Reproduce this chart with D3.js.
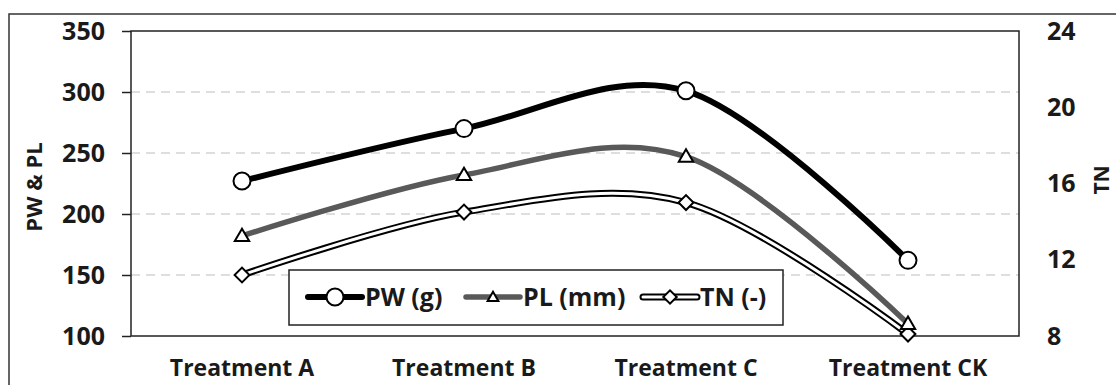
<!DOCTYPE html>
<html>
<head>
<meta charset="utf-8">
<script src="https://cdn.jsdelivr.net/npm/d3@7"></script>
<style>
  body { margin: 0; background: #fff; }
  text { font-family: "Open Sans", sans-serif; font-weight: bold; fill: #1a1a1a; }
</style>
</head>
<body>
<div id="chart"></div>
<script>
// values
var categories = ["Treatment A", "Treatment B", "Treatment C", "Treatment CK"];
var pw = [227, 270, 301, 162];   // PW (g), left axis
var pl = [182, 232, 247, 110];   // PL (mm), left axis
var tn = [11.2, 14.5, 15.0, 8.1]; // TN (-), right axis
var leftTicks = [100, 150, 200, 250, 300, 350];
var rightTicks = [8, 12, 16, 20, 24];

var W = 1116, H = 385;
var m = { left: 131, right: 97, top: 31, bottom: 49 };

var svg = d3.select("#chart").append("svg").attr("width", W).attr("height", H);

// outer frame, cut by the window on the right and bottom
svg.append("rect")
  .attr("x", 9).attr("y", 14).attr("width", 1300).attr("height", 600)
  .attr("fill", "none").attr("stroke", "#333").attr("stroke-width", 1.5);

var x = d3.scaleBand().domain(categories).range([m.left, W - m.right]);
var yL = d3.scaleLinear().domain([100, 350]).range([H - m.bottom, m.top]);
var yR = d3.scaleLinear().domain([8, 24]).range([H - m.bottom, m.top]);
var cx = function (d, i) { return x(categories[i]) + x.bandwidth() / 2; };

// dashed gridlines
svg.append("g").selectAll("line")
  .data(leftTicks.filter(function (t) { return t > 100 && t < 350; }))
  .join("line")
  .attr("x1", m.left).attr("x2", W - m.right)
  .attr("y1", function (d) { return yL(d); }).attr("y2", function (d) { return yL(d); })
  .attr("stroke", "#d4d4d4").attr("stroke-width", 1.5).attr("stroke-dasharray", "9,6");

// plot border
svg.append("rect")
  .attr("x", m.left).attr("y", m.top)
  .attr("width", W - m.right - m.left).attr("height", H - m.bottom - m.top)
  .attr("fill", "none").attr("stroke", "#222").attr("stroke-width", 1.5);

// left axis
var gL = svg.append("g").attr("transform", "translate(" + m.left + ",0)")
  .call(d3.axisLeft(yL).tickValues(leftTicks).tickSize(9).tickPadding(17));
gL.select(".domain").remove();
gL.selectAll(".tick line").attr("stroke", "#222").attr("stroke-width", 1.5);
gL.selectAll("text").style("font-size", "25px").attr("fill", "#1a1a1a");

// right axis
var gR = svg.append("g").attr("transform", "translate(" + (W - m.right) + ",0)")
  .call(d3.axisRight(yR).tickValues(rightTicks).tickSize(0).tickPadding(28));
gR.select(".domain").remove();
gR.selectAll("text").style("font-size", "25px").attr("fill", "#1a1a1a");

// category labels
var gX = svg.append("g").attr("transform", "translate(0," + (H - m.bottom) + ")")
  .call(d3.axisBottom(x).tickSize(0).tickPadding(24));
gX.select(".domain").remove();
gX.selectAll("text").style("font-size", "23px").attr("fill", "#1a1a1a");

// axis titles
svg.append("text").attr("transform", "translate(42,187) rotate(-90)")
  .attr("text-anchor", "middle").style("font-size", "22px").text("PW & PL");
svg.append("text").attr("transform", "translate(1109,180) rotate(-90)")
  .attr("text-anchor", "middle").style("font-size", "21px").text("TN");

var curve = d3.curveCardinal.tension(0);

// lines
var lineL = d3.line().x(cx).y(function (d) { return yL(d); }).curve(curve);
var lineR = d3.line().x(cx).y(function (d) { return yR(d); }).curve(curve);

svg.append("path").attr("d", lineR(tn)).attr("fill", "none")
  .attr("stroke", "#000").attr("stroke-width", 7);
svg.append("path").attr("d", lineR(tn)).attr("fill", "none")
  .attr("stroke", "#fff").attr("stroke-width", 3);
svg.append("path").attr("d", lineL(pl)).attr("fill", "none")
  .attr("stroke", "#595959").attr("stroke-width", 5.5);
svg.append("path").attr("d", lineL(pw)).attr("fill", "none")
  .attr("stroke", "#000").attr("stroke-width", 6);

// markers
var tri = d3.symbol().type(d3.symbolTriangle).size(90);
var dia = d3.symbol().type(d3.symbolSquare).size(110);

svg.append("g").selectAll("path").data(tn).join("path")
  .attr("d", dia)
  .attr("transform", function (d, i) { return "translate(" + cx(d, i) + "," + yR(d) + ") rotate(45)"; })
  .attr("fill", "#fff").attr("stroke", "#000").attr("stroke-width", 2);
svg.append("g").selectAll("path").data(pl).join("path")
  .attr("d", tri)
  .attr("transform", function (d, i) { return "translate(" + cx(d, i) + "," + (yL(d) + 1) + ")"; })
  .attr("fill", "#fff").attr("stroke", "#000").attr("stroke-width", 2);
svg.append("g").selectAll("circle").data(pw).join("circle")
  .attr("cx", cx).attr("cy", function (d) { return yL(d); }).attr("r", 8.5)
  .attr("fill", "#fff").attr("stroke", "#000").attr("stroke-width", 2);

// legend
var lg = svg.append("g");
lg.append("rect").attr("x", 289).attr("y", 270).attr("width", 494).attr("height", 55)
  .attr("fill", "#fff").attr("stroke", "#222").attr("stroke-width", 1.5);

var ly = 297;
var items = [
  { x: 308, label: "PW (g)" },
  { x: 466, label: "PL (mm)" },
  { x: 643, label: "TN (-)" }
];
// PW
lg.append("line").attr("x1", items[0].x).attr("x2", items[0].x + 54).attr("y1", ly).attr("y2", ly)
  .attr("stroke", "#000").attr("stroke-width", 6).attr("stroke-linecap", "round");
lg.append("circle").attr("cx", items[0].x + 27).attr("cy", ly).attr("r", 8.5)
  .attr("fill", "#fff").attr("stroke", "#000").attr("stroke-width", 2);
// PL
lg.append("line").attr("x1", items[1].x).attr("x2", items[1].x + 54).attr("y1", ly).attr("y2", ly)
  .attr("stroke", "#595959").attr("stroke-width", 5.5).attr("stroke-linecap", "round");
lg.append("path").attr("d", d3.symbol().type(d3.symbolTriangle).size(50))
  .attr("transform", "translate(" + (items[1].x + 27) + "," + (ly + 1) + ")")
  .attr("fill", "#fff").attr("stroke", "#000").attr("stroke-width", 2);
// TN
lg.append("line").attr("x1", items[2].x).attr("x2", items[2].x + 54).attr("y1", ly).attr("y2", ly)
  .attr("stroke", "#000").attr("stroke-width", 7).attr("stroke-linecap", "round");
lg.append("line").attr("x1", items[2].x).attr("x2", items[2].x + 54).attr("y1", ly).attr("y2", ly)
  .attr("stroke", "#fff").attr("stroke-width", 3).attr("stroke-linecap", "round");
lg.append("path").attr("d", d3.symbol().type(d3.symbolSquare).size(90))
  .attr("transform", "translate(" + (items[2].x + 27) + "," + ly + ") rotate(45)")
  .attr("fill", "#fff").attr("stroke", "#000").attr("stroke-width", 2);

lg.selectAll("text.lab").data(items).join("text").attr("class", "lab")
  .attr("x", function (d) { return d.x + 57; }).attr("y", ly).attr("dy", "0.36em")
  .style("font-size", "25px").text(function (d) { return d.label; });
</script>
</body>
</html>
